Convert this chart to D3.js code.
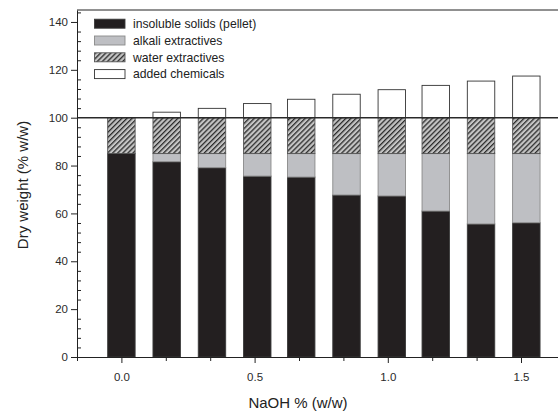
<!DOCTYPE html>
<html lang="en">
<head>
<meta charset="UTF-8">
<title>Dry weight vs NaOH</title>
<script src="https://d3js.org/d3.v7.min.js"></script>
<style>
  body { margin: 0; background: #fff; }
  svg { display: block; font-family: "Liberation Sans", Arial, sans-serif; }
</style>
</head>
<body>
<svg width="558" height="414"></svg>
<script>
// values (% w/w)
const naoh    = [0, 0.17, 0.34, 0.51, 0.675, 0.845, 1.015, 1.18, 1.35, 1.52];
const pellet  = [85, 81.6, 79.1, 75.6, 75.2, 67.7, 67.3, 61.0, 55.6, 56.1];
const alkali  = [0, 3.4, 5.9, 9.4, 9.8, 17.3, 17.7, 24.0, 29.4, 28.9];
const water   = [15, 15, 15, 15, 15, 15, 15, 15, 15, 15];
const added   = [0, 2.3, 3.9, 5.9, 7.7, 9.8, 11.7, 13.5, 15.3, 17.4];
const seriesNames = ["insoluble solids (pellet)", "alkali extractives", "water extractives", "added chemicals"];
const xTicks = [0, 0.5, 1.0, 1.5];
const xMinor = [-1/6, 1/6, 1/3, 2/3, 5/6, 7/6, 4/3];
const yTicks = [0, 20, 40, 60, 80, 100, 120, 140];

const svg = d3.select("svg");
const plotLeft = 77, plotTop = 10, plotBottom = 357;

const x = d3.scaleLinear().domain([-1/6, 5/3]).range([plotLeft, 565.4]);
const y = d3.scaleLinear().domain([0, 145]).range([plotBottom, plotTop]);
const barW = x(0.103) - x(0);

// hatch pattern for water extractives
const defs = svg.append("defs");
const pat = defs.append("pattern")
    .attr("id", "hatch")
    .attr("patternUnits", "userSpaceOnUse")
    .attr("width", 3.6).attr("height", 3.6)
    .attr("patternTransform", "rotate(45)");
pat.append("rect").attr("width", 3.6).attr("height", 3.6).attr("fill", "#c4c4c4");
pat.append("rect").attr("width", 1.3).attr("height", 3.6).attr("fill", "#2b2b2b");

const fills = ["#231f20", "#bebfc3", "url(#hatch)", "#ffffff"];
const strokes = ["#3a3a3a", "#8a8a8a", "#555", "#333"];

// stack data
const rows = naoh.map((n, i) => ({ n, pellet: pellet[i], alkali: alkali[i], water: water[i], added: added[i] }));
const keys = ["pellet", "alkali", "water", "added"];
const stacked = d3.stack().keys(keys)(rows);

const g = svg.append("g");
stacked.forEach((layer, k) => {
  g.selectAll(".s" + k)
    .data(layer.filter(d => d[1] - d[0] > 0))
    .enter().append("rect")
      .attr("x", d => x(d.data.n) - barW / 2)
      .attr("y", d => y(d[1]))
      .attr("width", barW)
      .attr("height", d => y(d[0]) - y(d[1]))
      .attr("fill", fills[k])
      .attr("stroke", strokes[k])
      .attr("stroke-width", 0.9);
});

// reference line at 100 %
svg.append("line")
    .attr("x1", plotLeft).attr("x2", 560)
    .attr("y1", y(100)).attr("y2", y(100))
    .attr("stroke", "#2a2a2a").attr("stroke-width", 1.6);

// top frame
svg.append("line")
    .attr("x1", plotLeft).attr("x2", 560)
    .attr("y1", plotTop).attr("y2", plotTop)
    .attr("stroke", "#222").attr("stroke-width", 1);

// axes
svg.append("g")
    .attr("transform", `translate(${plotLeft},0)`)
    .call(d3.axisLeft(y).tickValues(yTicks).tickSize(6).tickSizeOuter(0).tickPadding(3));
svg.append("g")
    .attr("transform", `translate(${plotLeft},0)`)
    .call(d3.axisRight(y).tickValues(d3.range(4, 145, 4).filter(v => v % 20 !== 0))
      .tickSize(4).tickSizeOuter(0).tickFormat(""))
    .select(".domain").remove();

svg.append("g")
    .attr("transform", `translate(0,${plotBottom})`)
    .call(d3.axisBottom(x).tickValues(xTicks).tickFormat(d3.format(".1f"))
      .tickSize(6).tickSizeOuter(0).tickPadding(10));
svg.append("g")
    .attr("transform", `translate(0,${plotBottom})`)
    .call(d3.axisBottom(x).tickValues(xMinor).tickSize(4).tickSizeOuter(0).tickFormat(""))
    .select(".domain").remove();

svg.selectAll(".domain, .tick line").attr("stroke", "#222");
svg.selectAll(".tick text").attr("fill", "#2a2a2a").style("font-size", "11.5px")
    .style("font-family", '"Liberation Sans", Arial, sans-serif');

// axis titles
svg.append("text")
    .attr("x", 298).attr("y", 408)
    .attr("text-anchor", "middle")
    .attr("fill", "#222")
    .style("font-size", "15px")
    .text("NaOH % (w/w)");
svg.append("text")
    .attr("transform", "rotate(-90)")
    .attr("x", -185).attr("y", 28)
    .attr("text-anchor", "middle")
    .attr("fill", "#222")
    .style("font-size", "15px")
    .text("Dry weight (% w/w)");

// legend
const legend = svg.append("g");
seriesNames.forEach((name, i) => {
  const cy = 23.7 + i * 16.8;
  legend.append("rect")
      .attr("x", 94.5).attr("y", cy - 4.5)
      .attr("width", 30.5).attr("height", 9)
      .attr("fill", fills[i]).attr("stroke", strokes[i]).attr("stroke-width", 0.9);
  legend.append("text")
      .attr("x", 133).attr("y", cy + 4.3)
      .attr("fill", "#222")
      .style("font-size", "12.2px")
      .text(name);
});
</script>
</body>
</html>
